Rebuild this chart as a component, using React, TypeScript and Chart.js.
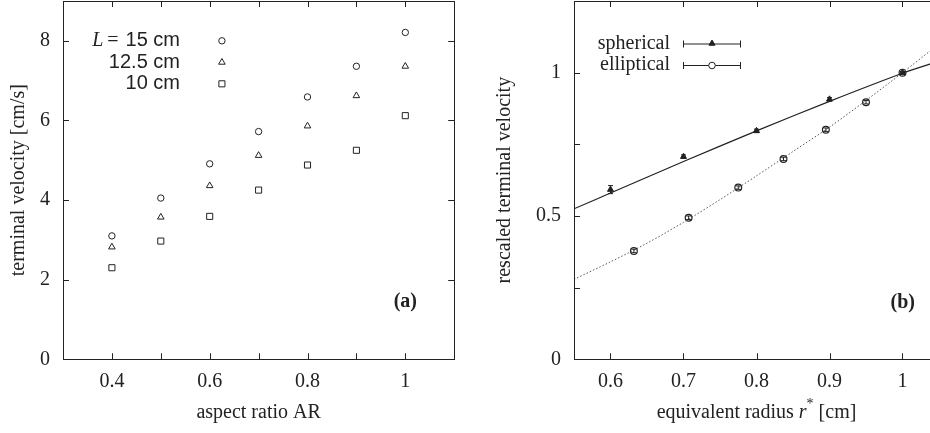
import React, { useEffect, useRef } from "react";
import { Chart, registerables } from "chart.js";
Chart.register(...registerables);

// ---------- panel (a) data ----------
const aspectRatios = [0.4, 0.5, 0.6, 0.7, 0.8, 0.9, 1.0];
const velocityL15 = [3.1, 4.05, 4.91, 5.72, 6.59, 7.36, 8.21];
const velocityL125 = [2.82, 3.57, 4.36, 5.12, 5.86, 6.62, 7.36];
const velocityL10 = [2.3, 2.97, 3.59, 4.25, 4.88, 5.25, 6.12];
const legendLabelsA = ["15 cm", "12.5 cm", "10 cm"];
const legendKeyXA = 0.625;
const legendKeyYA = [8.0, 7.46, 6.92];
const ticksXA = [0.3, 0.4, 0.5, 0.6, 0.7, 0.8, 0.9, 1.0, 1.1];
const ticksYA = [0, 2, 4, 6, 8];

// ---------- panel (b) data ----------
const radiusSpherical = [0.6, 0.7, 0.8, 0.9, 1.0];
const rescaledSpherical = [0.592, 0.707, 0.797, 0.907, 1.0];
const errSpherical = [0.014, 0.006, 0.006, 0.006, 0.004];
const radiusElliptical = [0.632, 0.707, 0.775, 0.837, 0.895, 0.95, 1.0];
const rescaledElliptical = [0.378, 0.494, 0.599, 0.699, 0.801, 0.897, 1.0];
const errElliptical = [0.006, 0.006, 0.006, 0.006, 0.006, 0.006, 0.004];
const fitSphericalX = [0.55, 0.6, 0.7, 0.8, 0.9, 1.0, 1.05];
const fitSphericalY = [0.525, 0.58, 0.69, 0.797, 0.9, 0.998, 1.04];
const fitEllipticalX = [0.55, 0.6, 0.65, 0.7, 0.75, 0.8, 0.85, 0.9, 0.95, 1.0, 1.05];
const fitEllipticalY = [0.279, 0.34, 0.405, 0.478, 0.557, 0.64, 0.725, 0.81, 0.903, 1.0, 1.1];
const legendLabelsB = ["spherical", "elliptical"];
const ticksXB = [0.6, 0.7, 0.8, 0.9, 1.0];
const ticksYB = [0, 0.25, 0.5, 0.75, 1.0, 1.25];

const SERIF = "'Liberation Serif', 'Times New Roman', serif";
const SANS = "'Liberation Sans', Arial, sans-serif";
const INK = "#222";
const FS = 20;

const pts = (xs: number[], ys: number[]) => xs.map((x, i) => ({ x, y: ys[i] }));

const isMultiple = (v: number, step: number) => {
  const n = v / step;
  return Math.abs(n - Math.round(n)) < 1e-6;
};

function drawFrame(chart: any) {
  const { ctx, chartArea: a, scales } = chart;
  ctx.save();
  ctx.strokeStyle = INK;
  ctx.lineWidth = 1;
  ctx.strokeRect(Math.round(a.left) + 0.5, Math.round(a.top) + 0.5, Math.round(a.right - a.left), Math.round(a.bottom - a.top));
  const L = 6;
  ctx.beginPath();
  for (const t of scales.x.ticks) {
    const x = Math.round(scales.x.getPixelForValue(t.value)) + 0.5;
    ctx.moveTo(x, a.bottom);
    ctx.lineTo(x, a.bottom - L);
    ctx.moveTo(x, a.top);
    ctx.lineTo(x, a.top + L);
  }
  for (const t of scales.y.ticks) {
    const y = Math.round(scales.y.getPixelForValue(t.value)) + 0.5;
    ctx.moveTo(a.left, y);
    ctx.lineTo(a.left + L, y);
    ctx.moveTo(a.right, y);
    ctx.lineTo(a.right - L, y);
  }
  ctx.stroke();
  ctx.restore();
}

function drawMarker(ctx: CanvasRenderingContext2D, style: string, x: number, y: number, r: number, fill: string) {
  ctx.save();
  ctx.strokeStyle = INK;
  ctx.fillStyle = fill;
  ctx.lineWidth = 1;
  ctx.beginPath();
  if (style === "circle") {
    ctx.arc(x, y, r, 0, Math.PI * 2);
  } else if (style === "triangle") {
    ctx.moveTo(x, y - r);
    ctx.lineTo(x + r * 0.866, y + r * 0.5);
    ctx.lineTo(x - r * 0.866, y + r * 0.5);
    ctx.closePath();
  } else {
    const s = r * Math.SQRT1_2;
    ctx.rect(x - s, y - s, 2 * s, 2 * s);
  }
  ctx.fill();
  ctx.stroke();
  ctx.restore();
}

const zeroPad = (s: any) => {
  s.paddingTop = 0;
  s.paddingBottom = 0;
  s.paddingLeft = 0;
  s.paddingRight = 0;
};

const baseScale = (tickValues: number[], size: number, horizontal: boolean, extra: any) => ({
  type: "linear",
  grid: { display: false, drawTicks: false },
  border: { display: false },
  afterBuildTicks: (s: any) => {
    s.ticks = tickValues.map((value) => ({ value }));
  },
  afterFit: (s: any) => {
    if (horizontal) s.height = size;
    else s.width = size;
    zeroPad(s);
  },
  ...extra,
});

const tickFont = { family: SERIF, size: FS };

function configA(): any {
  const decorate = {
    id: "decorateA",
    afterDatasetsDraw(chart: any) {
      drawFrame(chart);
      const { ctx, scales } = chart;
      const kx = scales.x.getPixelForValue(legendKeyXA);
      const styles = ["circle", "triangle", "rect"];
      const radii = [3.2, 3.8, 4.3];
      const textRight = 180;
      ctx.save();
      ctx.fillStyle = INK;
      ctx.textBaseline = "middle";
      legendLabelsA.forEach((lab, i) => {
        const y = scales.y.getPixelForValue(legendKeyYA[i]);
        ctx.font = `${FS}px ${SANS}`;
        ctx.textAlign = "right";
        ctx.fillText(lab, textRight, y);
        if (i === 0) {
          const w = ctx.measureText(lab).width;
          ctx.font = `${FS}px ${SERIF}`;
          const eqRight = textRight - w - 7;
          ctx.fillText("=", eqRight, y);
          const we = ctx.measureText("=").width;
          ctx.font = `italic ${FS}px ${SERIF}`;
          ctx.fillText("L", eqRight - we - 4, y);
        }
        drawMarker(ctx, styles[i], kx, y, radii[i], "#fff");
      });
      ctx.font = `bold ${FS}px ${SERIF}`;
      ctx.textAlign = "right";
      ctx.fillText("(a)", 417, 302);
      ctx.restore();
    },
  };
  return {
    type: "scatter",
    data: {
      datasets: [
        { data: pts(aspectRatios, velocityL15), pointStyle: "circle", pointRadius: 3.2 },
        { data: pts(aspectRatios, velocityL125), pointStyle: "triangle", pointRadius: 3.8 },
        { data: pts(aspectRatios, velocityL10), pointStyle: "rect", pointRadius: 4.3 },
      ].map((d) => ({ ...d, borderColor: INK, backgroundColor: "#fff", borderWidth: 1, pointHoverRadius: d.pointRadius })),
    },
    options: {
      animation: false,
      responsive: false,
      devicePixelRatio: 1,
      events: [],
      layout: { autoPadding: false, padding: { top: 1, right: 5.8, left: 0, bottom: 0 } },
      plugins: { legend: { display: false }, tooltip: { enabled: false } },
      scales: {
        x: baseScale(ticksXA, 73.7, true, {
          min: 0.3,
          max: 1.1,
          ticks: {
            autoSkip: false,
            maxRotation: 0,
            padding: 10,
            color: INK,
            font: tickFont,
            callback: (v: number) => {
              const n = Math.round(v * 10);
              if (n % 2 !== 0 || n < 4 || n > 10) return "";
              return n === 10 ? "1" : (n / 10).toString();
            },
          },
          title: { display: true, text: "aspect ratio AR", color: INK, font: tickFont, padding: { top: 0, bottom: 8 } },
        }),
        y: baseScale(ticksYA, 63, false, {
          min: 0,
          max: 9,
          ticks: {
            autoSkip: false,
            padding: 13,
            color: INK,
            font: tickFont,
            callback: (v: number) => String(Math.round(v)),
          },
          title: { display: true, text: "terminal velocity [cm/s]", color: INK, font: tickFont, padding: { top: 7, bottom: 0 } },
        }),
      },
    },
    plugins: [decorate],
  };
}

function configB(): any {
  const decorate = {
    id: "decorateB",
    afterDatasetsDraw(chart: any) {
      drawFrame(chart);
      const { ctx, scales } = chart;
      ctx.save();
      ctx.strokeStyle = INK;
      ctx.lineWidth = 1;
      const bars = (xs: number[], ys: number[], es: number[]) => {
        ctx.beginPath();
        xs.forEach((x, i) => {
          const px = scales.x.getPixelForValue(x);
          const y0 = scales.y.getPixelForValue(ys[i] - es[i]);
          const y1 = scales.y.getPixelForValue(ys[i] + es[i]);
          ctx.moveTo(px, y0);
          ctx.lineTo(px, y1);
          ctx.moveTo(px - 2.5, y0);
          ctx.lineTo(px + 2.5, y0);
          ctx.moveTo(px - 2.5, y1);
          ctx.lineTo(px + 2.5, y1);
        });
        ctx.stroke();
      };
      bars(radiusSpherical, rescaledSpherical, errSpherical);
      bars(radiusElliptical, rescaledElliptical, errElliptical);

      // legend
      ctx.fillStyle = INK;
      ctx.textBaseline = "middle";
      ctx.textAlign = "right";
      ctx.font = `${FS}px ${SERIF}`;
      const ys = [43.5, 65];
      legendLabelsB.forEach((lab, i) => {
        const y = ys[i];
        ctx.fillText(lab, 210, y);
        ctx.beginPath();
        ctx.moveTo(223, y + 0.5);
        ctx.lineTo(281, y + 0.5);
        ctx.moveTo(223.5, y - 3);
        ctx.lineTo(223.5, y + 4);
        ctx.moveTo(280.5, y - 3);
        ctx.lineTo(280.5, y + 4);
        ctx.stroke();
        if (i === 0) drawMarker(ctx, "triangle", 252, y, 3.5, INK);
        else drawMarker(ctx, "circle", 252, y + 0.5, 3.3, "#fff");
      });

      ctx.font = `bold ${FS}px ${SERIF}`;
      ctx.textAlign = "right";
      ctx.fillText("(b)", 455, 303);

      // x-axis title with italic r and superscript *
      const parts = [
        { t: "equivalent radius ", f: `${FS}px ${SERIF}`, dy: 0 },
        { t: "r", f: `italic ${FS}px ${SERIF}`, dy: 0 },
        { t: "*", f: `14px ${SERIF}`, dy: -9 },
        { t: " [cm]", f: `${FS}px ${SERIF}`, dy: 0 },
      ];
      let total = 0;
      const widths = parts.map((p) => {
        ctx.font = p.f;
        const w = ctx.measureText(p.t).width;
        total += w;
        return w;
      });
      const cx = (chart.chartArea.left + chart.chartArea.right) / 2;
      let x = cx - total / 2;
      ctx.textAlign = "left";
      parts.forEach((p, i) => {
        ctx.font = p.f;
        ctx.fillText(p.t, x, 413 + p.dy);
        x += widths[i];
      });
      ctx.restore();
    },
  };
  return {
    type: "scatter",
    data: {
      datasets: [
        {
          data: pts(fitSphericalX, fitSphericalY),
          showLine: true,
          pointRadius: 0,
          borderColor: INK,
          borderWidth: 1.2,
          tension: 0.3,
        },
        {
          data: pts(fitEllipticalX, fitEllipticalY),
          showLine: true,
          pointRadius: 0,
          borderColor: "#555",
          borderWidth: 1,
          borderDash: [1.5, 2],
          tension: 0.3,
        },
        {
          data: pts(radiusSpherical, rescaledSpherical),
          pointStyle: "triangle",
          pointRadius: 3.5,
          borderColor: INK,
          backgroundColor: INK,
          borderWidth: 1,
        },
        {
          data: pts(radiusElliptical, rescaledElliptical),
          pointStyle: "circle",
          pointRadius: 3.4,
          borderColor: INK,
          backgroundColor: "#fff",
          borderWidth: 1.2,
        },
      ],
    },
    options: {
      animation: false,
      responsive: false,
      devicePixelRatio: 1,
      events: [],
      layout: { autoPadding: false, padding: { top: 1, right: 11, left: 0, bottom: 0 } },
      plugins: { legend: { display: false }, tooltip: { enabled: false } },
      scales: {
        x: baseScale(ticksXB, 73.7, true, {
          min: 0.55,
          max: 1.05,
          ticks: {
            autoSkip: false,
            maxRotation: 0,
            padding: 10,
            color: INK,
            font: tickFont,
            callback: (v: number) => {
              const n = Math.round(v * 10);
              return n === 10 ? "1" : (n / 10).toString();
            },
          },
          title: { display: false },
        }),
        y: baseScale(ticksYB, 114, false, {
          min: 0,
          max: 1.25,
          ticks: {
            autoSkip: false,
            padding: 13,
            color: INK,
            font: tickFont,
            callback: (v: number) => {
              if (!isMultiple(v, 0.5)) return "";
              const n = Math.round(v * 2);
              return n === 0 ? "0" : n === 2 ? "1" : "0.5";
            },
          },
          title: { display: true, text: "rescaled terminal velocity", color: INK, font: tickFont, padding: { top: 33, bottom: 0 } },
        }),
      },
    },
    plugins: [decorate],
  };
}

export default function App() {
  const aRef = useRef<HTMLCanvasElement>(null);
  const bRef = useRef<HTMLCanvasElement>(null);
  useEffect(() => {
    const a = new Chart(aRef.current!, configA());
    const b = new Chart(bRef.current!, configB());
    return () => {
      a.destroy();
      b.destroy();
    };
  }, []);
  return (
    <div style={{ position: "fixed", left: 0, top: 0, width: 930, height: 433, overflow: "hidden", background: "#fff" }}>
      <canvas ref={aRef} width={460} height={433} style={{ position: "absolute", left: 0, top: 0, width: 460, height: 433 }} />
      <canvas ref={bRef} width={490} height={433} style={{ position: "absolute", left: 460, top: 0, width: 490, height: 433 }} />
    </div>
  );
}
